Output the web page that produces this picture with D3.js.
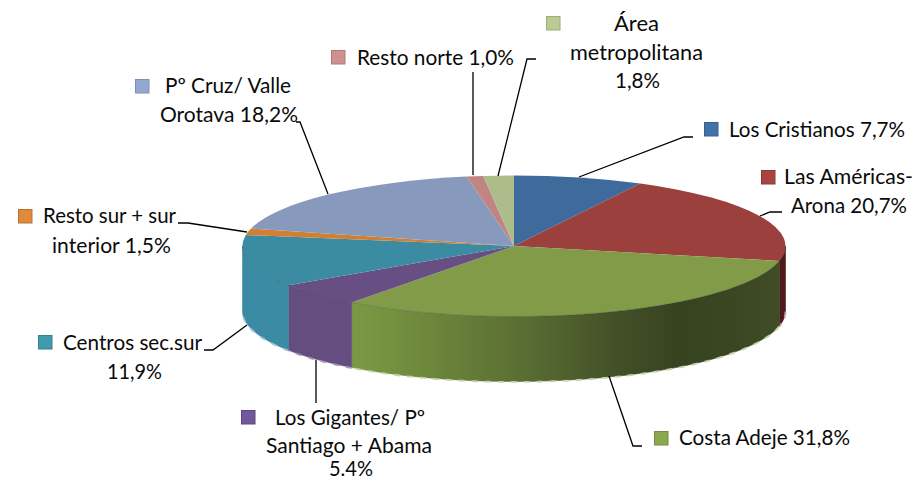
<!DOCTYPE html>
<html><head><meta charset="utf-8">
<script src="https://cdn.jsdelivr.net/npm/d3@7"></script>
<style>html,body{margin:0;padding:0;background:#fff;overflow:hidden}svg{display:block}
text{font-family:Lato,"Open Sans",sans-serif;font-size:21px;fill:#0a0a0a}</style></head><body>
<svg id="c" width="916" height="481"></svg>
<script>
const categories=["Los Cristianos","Las Américas-Arona","Costa Adeje","Los Gigantes/ Pº Santiago + Abama","Centros sec.sur","Resto sur + sur interior","Pº Cruz/ Valle Orotava","Resto norte","Área metropolitana"];
const values=[7.7,20.7,31.8,5.4,11.9,1.5,18.2,1.0,1.8];
const topColors=["#3f6a9c","#9b403d","#819b49","#674e83","#3b8ba3","#d07f33","#8799bc","#c08583","#acbd8b"];
const keyColors=["#4472a8","#a84442","#8aa84e","#70589a","#429aae","#e08a3c","#93a8d0","#d09090","#b8cc94"];
const keyBorders=["#37609a","#8a3a38","#728c40","#5c4780","#35808f","#b87230","#7c8fb4","#b07a78","#9cae7c"];
const labelLines=[["Los Cristianos 7,7%"],["Las Américas-","Arona 20,7%"],["Costa Adeje 31,8%"],["Los Gigantes/ Pº","Santiago + Abama","5.4%"],["Centros sec.sur","11,9%"],["Resto sur + sur","interior 1,5%"],["Pº Cruz/ Valle","Orotava 18,2%"],["Resto norte 1,0%"],["Área","metropolitana","1,8%"]];

(function(){
const cx=514,cy=246,rx=271.5,ry=70.5,depth=65;
const svg=d3.select("#c");
const defs=svg.append("defs");
const g=defs.append("linearGradient").attr("id","gw").attr("gradientUnits","userSpaceOnUse").attr("x1",352).attr("x2",782).attr("y1",0).attr("y2",0);
[[0,"#7b9845"],[.1,"#73903f"],[.42,"#586b32"],[.62,"#424f27"],[.76,"#36431f"],[.9,"#3a4722"],[1,"#404d25"]].forEach(s=>g.append("stop").attr("offset",s[0]).attr("stop-color",s[1]));
const wallFill=["#3f6a9c","#4f1a1c","url(#gw)","#664d80","#3a8ba3","#b87230","#8799bc","#c08583","#acbd8b"];
const fringe=["none","#c9a9a9","#c5d1ab","#a897bd","#9cc6d2","none","none","none","none"];

const arcs=d3.pie().sort(null).value(d=>d).startAngle(0).endAngle(2*Math.PI)(values);
const px=t=>cx+rx*Math.sin(t), py=t=>cy-ry*Math.cos(t);

const wl=d3.line().x(d=>d[0]).y(d=>d[1]);
const samples=(a,b)=>d3.range(0,41).map(i=>a+(b-a)*i/40);
const rims=[];
arcs.forEach((d,i)=>{
  const a=Math.max(d.startAngle,Math.PI/2), b=Math.min(d.endAngle,3*Math.PI/2);
  if(b<=a) return;
  const ts=samples(a,b);
  const pts=ts.map(t=>[px(t),py(t)]).concat(ts.slice().reverse().map(t=>[px(t),py(t)+depth]));
  svg.append("path").attr("d",wl(pts)+"Z").attr("fill",wallFill[i]).attr("stroke",wallFill[i]).attr("stroke-width",.6);
  if(fringe[i]!=="none") svg.append("path").attr("d",wl(ts.map(t=>[px(t),py(t)+depth+.5]))).attr("fill","none").attr("stroke",fringe[i]).attr("stroke-width",1.8).attr("stroke-dasharray","6 7");
  rims.push(ts);
});

const arc=d3.arc().innerRadius(0).outerRadius(rx);
const face=svg.append("g").attr("transform",`translate(${cx},${cy}) scale(1,${ry/rx})`);
face.selectAll("path").data(arcs).join("path").attr("d",arc).attr("fill",(d,i)=>topColors[i]);
svg.append("g").selectAll("path").data(rims).join("path")
 .attr("d",ts=>wl(ts.map(t=>[px(t),py(t)]))).attr("fill","none").attr("stroke","#1f2a30").attr("stroke-opacity",.25).attr("stroke-width",1);

const leaders=[
 [[579,177],[684,137],[693,137]],
 [[760,216],[770,212],[782,212]],
 [[609,376],[633,446],[642,446]],
 [[316,360],[316,403]],
 [[247,325],[213,350],[204,350]],
 [[247,232],[188,223],[178,223]],
 [[328,194],[300,122],[296,122]],
 [[473,175],[473,72]],
 [[498,176],[527,59],[536,59]]
];
svg.append("g").selectAll("path").data(leaders).join("path").attr("d",d3.line()).attr("fill","none").attr("stroke","#000").attr("stroke-width",1.3);

const keys=[[704,122],[761,170],[654,431],[241,410],[38,335],[18,209],[135,79],[331,50],[546,16]];
svg.append("g").selectAll("rect").data(keys).join("rect")
 .attr("x",d=>d[0]+.5).attr("y",d=>d[1]+.5).attr("width",13.5).attr("height",13.5)
 .attr("fill",(d,i)=>keyColors[i]).attr("stroke",(d,i)=>keyBorders[i]);
const spans=[
 [[729,905,137]],
 [[784,913,184],[791,907,213]],
 [[679,850,445]],
 [[275,425,425],[266,432,453],[329,373,476]],
 [[63,202,350],[107,162,379]],
 [[43,176,223],[52,171,253]],
 [[165,291,93],[160,298,122]],
 [[357,514,65]],
 [[614,659,31],[570,703,60],[615,660,88]]
];
labelLines.forEach((lines,i)=>lines.forEach((s,j)=>{
  const [x0,x1,y]=spans[i][j];
  svg.append("text").attr("x",x0).attr("y",y).attr("textLength",x1-x0).attr("lengthAdjust","spacingAndGlyphs").text(s);
}));
})();
</script></body></html>
